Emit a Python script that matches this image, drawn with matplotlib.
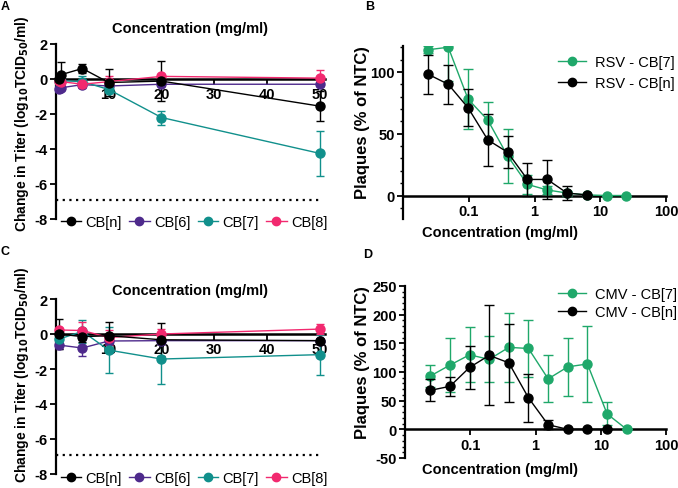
import numpy as np
import matplotlib
matplotlib.use("Agg")
import matplotlib.pyplot as plt
from matplotlib.lines import Line2D
from matplotlib.ticker import FixedLocator, MultipleLocator, NullFormatter, NullLocator

plt.rcParams['font.family'] = ['Liberation Sans', 'DejaVu Sans']

# ---------------- data ----------------
# Panel A (titer change vs concentration)
xA = [0.5, 1, 5, 10, 20, 50]
A_n = [0.0, 0.25, 0.6, -0.2, -0.12, -1.55]
A_n_err = [0.3, 0.72, 0.27, 0.77, 1.15, 0.85]
A_6 = [-0.55, -0.5, -0.32, -0.4, -0.3, -0.3]
A_6_err = [0.2, 0.15, 0.1, 0.1, 0.1, 0.1]
A_7 = [-0.1, -0.1, -0.15, -0.6, -2.2, -4.25]
A_7_err = [0.1, 0.1, 0.3, 0.1, 0.4, 1.3]
A_8 = [-0.1, -0.15, -0.3, -0.15, 0.15, 0.05]
A_8_err = [0.1, 0.1, 0.2, 0.3, 0.1, 0.45]

# Panel C
xC = [0.5, 5, 10, 20, 50]
C_n = [0.0, -0.15, -0.1, -0.33, -0.38]
C_n_err = [0.86, 0.3, 0.8, 0.95, 0.1]
C_6 = [-0.63, -0.8, -0.4, -0.38, -0.38]
C_6_err = [0.25, 0.45, 0.1, 0.1, 0.1]
C_7 = [-0.3, 0.15, -0.92, -1.43, -1.18]
C_7_err = [0.3, 0.65, 1.3, 1.43, 1.14]
C_8 = [0.23, 0.2, -0.2, 0.0, 0.28]
C_8_err = [0.1, 0.5, 0.45, 0.3, 0.3]

dotted_level = -6.9

# Panels B and D (plaques vs concentration, log scale)
conc = [0.0244, 0.0488, 0.0977, 0.195, 0.39, 0.78, 1.5625, 3.125, 6.25, 12.5, 25]
B_7 = [118, 120, 78, 61, 32, 9, 4.5, 2, 0.5, 0, 0]
B_7_err = [3, 27, 24.5, 15, 22, 8, 3, 2, 0, 0, 0]
B_n = [98, 90, 71, 45, 35, 13, 13, 2, 0.5]
B_n_err = [16, 16, 15, 21, 13, 13, 16, 6, 0]

D_7 = [93, 112, 130, 122, 143, 141, 88, 109, 114, 27, 0]
D_7_err = [19, 47, 48, 40, 60, 49, 41, 51, 66, 20, 0]
D_n = [68, 75, 108, 129, 116, 55, 8, 0, 0, 0]
D_n_err = [19, 17, 37, 87, 68, 42, 8, 0, 0, 0]

labels4 = ['CB[n]', 'CB[6]', 'CB[7]', 'CB[8]']
col_n = '#000000'
col_6 = '#4E2A8C'
col_7 = '#11908C'
col_8 = '#F2296F'
green = '#1FA86A'

W, H = 678, 489
fig = plt.figure(figsize=(W / 100, H / 100), dpi=100)


def fx(px):
    return px / W


def fy(py):
    return 1 - py / H


def axes_px(l, r, t, b):
    return fig.add_axes([fx(l), fy(b), fx(r) - fx(l), fy(t) - fy(b)])


TICKFS = 10.5
LABFS = 10.5


def style_common(ax):
    ax.spines['top'].set_visible(False)
    ax.spines['right'].set_visible(False)
    ax.spines['left'].set_linewidth(1.6)
    ax.spines['bottom'].set_linewidth(1.8)
    ax.spines['bottom'].set_position(('data', 0))
    ax.tick_params(axis='both', direction='out', length=4, width=1.3,
                   labelsize=TICKFS, pad=2)


def titer_panel(ax, x, series):
    # series: list of (y, err, color) in draw order
    for y, e, c in series:
        ax.errorbar(x, y, yerr=e, color=c, marker='o', markersize=6.5,
                    linewidth=1.0, elinewidth=1.0, capsize=3, capthick=1.0,
                    clip_on=False, zorder=3)
    ax.plot([0, 50], [dotted_level, dotted_level], color='black',
            linestyle=(0, (1, 2)), linewidth=1.6, zorder=2)
    ax.set_xlim(0, 51)
    ax.set_ylim(-8, 2)
    ax.xaxis.set_major_locator(FixedLocator([10, 20, 30, 40, 50]))
    ax.yaxis.set_major_locator(FixedLocator([-8, -6, -4, -2, 0, 2]))
    style_common(ax)
    ax.set_xticklabels(['10', '20', '30', '40', '50'], fontweight='bold')
    ax.set_yticklabels(['-8', '-6', '-4', '-2', '0', '2'], fontweight='bold')


ylab_titer = r'Change in Titer (log$_{\mathbf{10}}$TCID$_{\mathbf{50}}$/ml)'

# ---------------- Panel A ----------------
axA = axes_px(56, 325, 45, 220)
titer_panel(axA, xA, [(A_6, A_6_err, col_6), (A_7, A_7_err, col_7),
                      (A_8, A_8_err, col_8), (A_n, A_n_err, col_n)])
fig.text(fx(190), fy(29), 'Concentration (mg/ml)', ha='center', va='center',
         fontsize=LABFS, fontweight='bold')
fig.text(fx(22), fy(124), ylab_titer, rotation=90, ha='center', va='center',
         fontsize=10, fontweight='bold')

# ---------------- Panel C ----------------
axC = axes_px(56, 325, 300, 475)
titer_panel(axC, xC, [(C_6, C_6_err, col_6), (C_7, C_7_err, col_7),
                      (C_8, C_8_err, col_8), (C_n, C_n_err, col_n)])
fig.text(fx(190), fy(291), 'Concentration (mg/ml)', ha='center', va='center',
         fontsize=LABFS, fontweight='bold')
fig.text(fx(22), fy(375), ylab_titer, rotation=90, ha='center', va='center',
         fontsize=10, fontweight='bold')

handles4 = [Line2D([], [], color=c, marker='o', markersize=6, linewidth=1.0)
            for c in [col_n, col_6, col_7, col_8]]
for ax, cy in [(axA, 223), (axC, 479)]:
    ax.legend(handles4, labels4, loc='center', bbox_to_anchor=(fx(194), fy(cy)),
              bbox_transform=fig.transFigure, ncol=4, frameon=False,
              fontsize=10.5, handlelength=1.4, handletextpad=0.3,
              columnspacing=0.5, borderpad=0)


# ---------------- Panels B & D ----------------
def plaque_panel(ax, g, ge, k, ke, ylim, yticks, ylabels):
    ax.set_xscale('log')
    ax.errorbar(conc[:len(g)], g, yerr=ge, color=green, marker='o', markersize=6.5,
                linewidth=1.0, elinewidth=1.0, capsize=3.5, capthick=1.0,
                clip_on=True, zorder=3)
    ax.errorbar(conc[:len(k)], k, yerr=ke, color='black', marker='o', markersize=6.5,
                linewidth=1.0, elinewidth=1.0, capsize=3.5, capthick=1.0,
                clip_on=True, zorder=4)
    ax.set_xlim(0.01, 100)
    ax.set_ylim(*ylim)
    ax.xaxis.set_major_locator(FixedLocator([0.1, 1, 10, 100]))
    ax.xaxis.set_minor_locator(NullLocator())
    ax.xaxis.set_minor_formatter(NullFormatter())
    ax.yaxis.set_major_locator(FixedLocator(yticks))
    ax.yaxis.set_minor_locator(MultipleLocator(10))
    style_common(ax)
    ax.tick_params(axis='y', which='minor', length=2.5, width=1.0)
    ax.set_xticklabels(['0.1', '1', '10', '100'], fontweight='bold')
    ax.set_yticklabels(ylabels, fontweight='bold')


axB = axes_px(403, 666, 47, 220)
plaque_panel(axB, B_7, B_7_err, B_n, B_n_err, (-19, 121), [0, 50, 100],
             ['0', '50', '100'])
fig.text(fx(500), fy(233), 'Concentration (mg/ml)', ha='center', va='center',
         fontsize=LABFS, fontweight='bold')
fig.text(fx(362), fy(123), 'Plaques (% of NTC)', rotation=90, ha='center',
         va='center', fontsize=12, fontweight='bold')

axD = axes_px(405, 666, 287, 459)
plaque_panel(axD, D_7, D_7_err, D_n, D_n_err, (-50, 250),
             [-50, 0, 50, 100, 150, 200, 250],
             ['-50', '0', '50', '100', '150', '200', '250'])
fig.text(fx(500), fy(470), 'Concentration (mg/ml)', ha='center', va='center',
         fontsize=LABFS, fontweight='bold')
fig.text(fx(362), fy(363), 'Plaques (% of NTC)', rotation=90, ha='center',
         va='center', fontsize=12, fontweight='bold')

h2 = [Line2D([], [], color=c, marker='o', markersize=6, linewidth=1.0)
      for c in [green, 'black']]
axB.legend(h2, ['RSV - CB[7]', 'RSV - CB[n]'], loc='upper left',
           bbox_to_anchor=(fx(551), fy(49)), bbox_transform=fig.transFigure,
           frameon=False, fontsize=10.5, handlelength=1.9, handletextpad=0.6,
           labelspacing=0.45, borderpad=0)
axD.legend(h2, ['CMV - CB[7]', 'CMV - CB[n]'], loc='upper left',
           bbox_to_anchor=(fx(551), fy(281)), bbox_transform=fig.transFigure,
           frameon=False, fontsize=10.5, handlelength=1.9, handletextpad=0.6,
           labelspacing=0.25, borderpad=0)

# panel letters
for s, x, y in [('A', 5, 7), ('B', 370, 7), ('C', 5, 252), ('D', 368, 255)]:
    fig.text(fx(x), fy(y), s, ha='center', va='center', fontsize=9, fontweight='bold')

fig.savefig('out.png', dpi=100)
